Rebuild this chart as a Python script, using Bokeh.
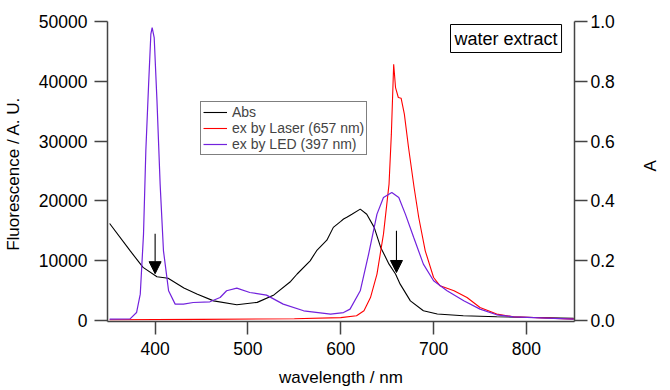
import math
from bokeh.plotting import figure
from bokeh.models import (Range1d, LinearAxis, FixedTicker, NumeralTickFormatter, Legend, LegendItem,
                          Label, Arrow, NormalHead)
from bokeh.embed import file_html
from bokeh.resources import INLINE

# ---- data ----
abs_nm = [351, 373, 387, 402, 414, 431, 445, 463, 488, 510, 528, 546, 553, 567, 574, 585, 592,
          600, 603, 607, 612, 621, 628, 636, 643, 652, 659, 664, 675, 689, 704, 732, 768, 851]
abs_a = [0.324, 0.233, 0.177, 0.146, 0.141, 0.108, 0.088, 0.065, 0.052, 0.060, 0.085, 0.130,
         0.155, 0.199, 0.233, 0.268, 0.311, 0.331, 0.339, 0.346, 0.355, 0.372, 0.355, 0.311,
         0.244, 0.188, 0.155, 0.121, 0.065, 0.032, 0.021, 0.015, 0.012, 0.007]

laser_nm = [351, 450, 550, 600, 617, 625, 632, 639, 646, 652, 654.5, 657, 659, 662, 665, 668.5,
            673, 679, 684, 691, 700, 707, 722, 736, 750, 768, 786, 851]
laser_f = [100, 150, 250, 450, 750, 1590, 3800, 7730, 14420, 22790, 31150, 42860, 38950, 37280,
           37170, 34500, 28910, 22220, 17200, 11630, 7160, 5770, 4940, 3815, 2140, 1040, 590, 200]

led_nm = [351, 373, 380, 384, 387.5, 390, 393, 395.4, 396.8, 399, 402, 405.4, 409, 414.5, 421.6,
          430.6, 441, 459, 470, 477, 488, 502, 520, 538, 560, 589, 603, 610, 621, 630, 639, 646,
          655, 662.5, 669.6, 678.6, 689, 700, 714.5, 732.5, 750, 768, 786, 851]
led_f = [200, 250, 1300, 4380, 14420, 28360, 39520, 47880, 48990, 47310, 36720, 22790, 11630,
         4940, 2710, 2710, 2980, 3100, 3815, 4940, 5390, 4650, 4215, 2710, 1590, 1040, 1300, 1870,
         4940, 11070, 17770, 20540, 21380, 20540, 17770, 13850, 9400, 6610, 4940, 3260, 1870, 920,
         585, 200]

x_ticks = [400, 500, 600, 700, 800]
left_ticks = [0, 10000, 20000, 30000, 40000, 50000]
right_ticks = [0.0, 0.2, 0.4, 0.6, 0.8, 1.0]

arrow_x = [400, 660]
arrow_y_start = [14500, 15000]
arrow_y_end = [7800, 8000]

FONT = "Liberation Sans"
AXC = "#444444"

p = figure(frame_width=467, frame_height=300, output_backend="svg", toolbar_location=None,
           x_range=Range1d(348.7, 851.8), y_range=Range1d(-200, 50000),
           min_border_left=103, min_border_top=21, min_border_right=92, min_border_bottom=55,
           y_axis_location="left")
p.extra_y_ranges = {"abs": Range1d(-0.004, 1.0)}
p.outline_line_color = None
p.xgrid.visible = False
p.ygrid.visible = False
p.background_fill_color = "white"
p.border_fill_color = "white"

r_abs = p.line(abs_nm, abs_a, color="black", line_width=1.1, y_range_name="abs")
r_laser = p.line(laser_nm, laser_f, color="#ff0000", line_width=1.1)
r_led = p.line(led_nm, led_f, color="#7222dd", line_width=1.2)

right = LinearAxis(y_range_name="abs")
p.add_layout(right, "right")

def style(ax):
    ax.axis_line_color = AXC
    ax.axis_line_width = 1.5
    ax.major_tick_line_color = AXC
    ax.major_tick_line_width = 1.5
    ax.major_tick_in = 0
    ax.major_tick_out = 13
    ax.minor_tick_line_color = None
    ax.major_label_text_font = FONT
    ax.major_label_text_font_size = "17.5px"
    ax.major_label_text_color = "black"
    ax.axis_label_text_font = FONT
    ax.axis_label_text_font_size = "17px"
    ax.axis_label_text_font_style = "normal"
    ax.axis_label_text_color = "black"

xa = p.xaxis[0]
style(xa)
xa.ticker = FixedTicker(ticks=x_ticks)
xa.axis_label = "wavelength / nm"
xa.major_label_standoff = 7
xa.axis_label_standoff = 10

ya = p.yaxis[0]
style(ya)
ya.ticker = FixedTicker(ticks=left_ticks)
ya.axis_label = "Fluorescence  / A. U."
ya.major_label_standoff = 7
ya.axis_label_standoff = 13

style(right)
right.ticker = FixedTicker(ticks=right_ticks)
right.formatter = NumeralTickFormatter(format="0.0")
right.major_label_standoff = 3
right.axis_label = "A"
right.axis_label_standoff = 33
if "axis_label_orientation" in right.properties():
    right.axis_label_orientation = math.pi / 2

legend = Legend(items=[LegendItem(label="Abs", renderers=[r_abs]),
                       LegendItem(label="ex by Laser (657 nm)", renderers=[r_laser]),
                       LegendItem(label="ex by LED (397 nm)", renderers=[r_led])],
                location=(93, 166), orientation="vertical")
legend.border_line_color = "black"
legend.border_line_width = 1
legend.background_fill_alpha = 1
legend.label_text_font = FONT
legend.label_text_font_size = "14px"
legend.glyph_width = 24
legend.glyph_height = 16
legend.label_height = 16
legend.spacing = 0
legend.padding = 2
legend.margin = 0
legend.label_standoff = 5
legend.label_text_line_height = 1.0
p.add_layout(legend, "center")

lab = Label(x=343, y=269, x_units="screen", y_units="screen", text="water extract",
            text_font=FONT, text_font_size="18px", text_color="black",
            border_line_color="black", border_line_width=1, background_fill_color="white",
            padding=4)
p.add_layout(lab)

for xa_, ys, ye in zip(arrow_x, arrow_y_start, arrow_y_end):
    p.add_layout(Arrow(x_start=xa_, y_start=ys, x_end=xa_, y_end=ye, line_color="black",
                       line_width=1.1,
                       end=NormalHead(size=12, fill_color="black", line_color="black")))

open("out.html", "w").write(file_html(p, INLINE))
